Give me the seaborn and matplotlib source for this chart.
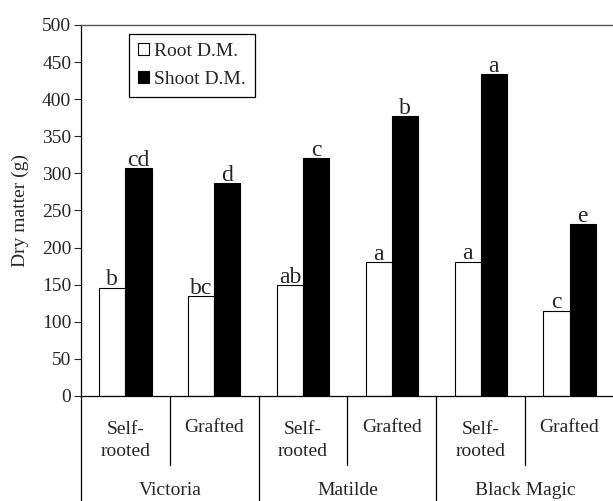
import pandas as pd
import numpy as np
import matplotlib
matplotlib.use('Agg')
import matplotlib.pyplot as plt
import matplotlib.transforms as mtransforms
import seaborn as sns

cultivars = ['Victoria', 'Matilde', 'Black Magic']
plants = ['Self-\nrooted', 'Grafted']
root_dm = [146, 135, 149, 180, 181, 115]
shoot_dm = [307, 287, 321, 377, 434, 232]
root_letters = ['b', 'bc', 'ab', 'a', 'a', 'c']
shoot_letters = ['cd', 'd', 'c', 'b', 'a', 'e']

groups = [f'{c} {p}' for c in cultivars for p in plants]
df = pd.DataFrame({
    'group': groups * 2,
    'part': ['Root D.M.'] * 6 + ['Shoot D.M.'] * 6,
    'value': root_dm + shoot_dm,
})

sns.set_style('white')
plt.rcParams['font.family'] = ['Liberation Serif', 'DejaVu Serif']
plt.rcParams['font.size'] = 14

fig = plt.figure(figsize=(6.13, 5.01), dpi=100)
ax = fig.add_axes([0.1321, 0.2096, 0.8695, 0.7405])

sns.barplot(data=df, x='group', y='value', hue='part', order=groups,
            palette={'Root D.M.': 'white', 'Shoot D.M.': 'black'},
            edgecolor='black', linewidth=0.8, width=0.59, gap=0,
            ax=ax)

letters = [root_letters, shoot_letters]
for cont, labs in zip(ax.containers, letters):
    for bar, lab in zip(cont, labs):
        ax.text(bar.get_x() + bar.get_width() / 2, bar.get_height() + 3, lab,
                ha='center', va='baseline', fontsize=17)

ax.set_ylim(0, 500)
ax.set_xlim(-0.5, 5.5)
ax.set_yticks(np.arange(0, 501, 50))
ax.tick_params(axis='y', left=True, length=5, width=0.8, labelsize=14, pad=2)
ax.tick_params(axis='x', bottom=False, labelbottom=False)
ax.set_xlabel('')
ax.set_ylabel('Dry matter (g)', fontsize=14)
ax.yaxis.set_label_coords(-0.098, 0.5)
for s in ['left', 'bottom']:
    ax.spines[s].set_color('black')
    ax.spines[s].set_linewidth(0.9)
ax.spines['top'].set_color('#555555')
ax.spines['top'].set_linewidth(1.0)
ax.spines['right'].set_color('#555555')

# category table under the axis
trans = mtransforms.blended_transform_factory(ax.transData, ax.transAxes)
for x in [-0.5, 1.5, 3.5, 5.5]:
    ax.plot([x, x], [0, -0.35], color='black', lw=0.9, transform=trans, clip_on=False)
for x in [0.5, 2.5, 4.5]:
    ax.plot([x, x], [0, -0.186], color='black', lw=0.9, transform=trans, clip_on=False)
for i in range(6):
    y = -0.12 if i % 2 == 0 else -0.084
    ax.text(i, y, plants[i % 2], transform=trans, ha='center', va='center',
            fontsize=14, linespacing=1.35)
for j, c in enumerate(cultivars):
    ax.text(2 * j + 0.5, -0.254, c, transform=trans, ha='center', va='center', fontsize=14)

handles, labels = ax.get_legend_handles_labels()
ax.legend(handles, labels, loc='upper left', bbox_to_anchor=(0.09, 0.975),
          frameon=True, fancybox=False, edgecolor='black', framealpha=1,
          handlelength=0.6, handleheight=0.6, handletextpad=0.25,
          borderpad=0.45, labelspacing=0.55, borderaxespad=0, fontsize=14)
ax.get_legend().get_frame().set_linewidth(0.9)

plt.savefig('out.png', dpi=100)
